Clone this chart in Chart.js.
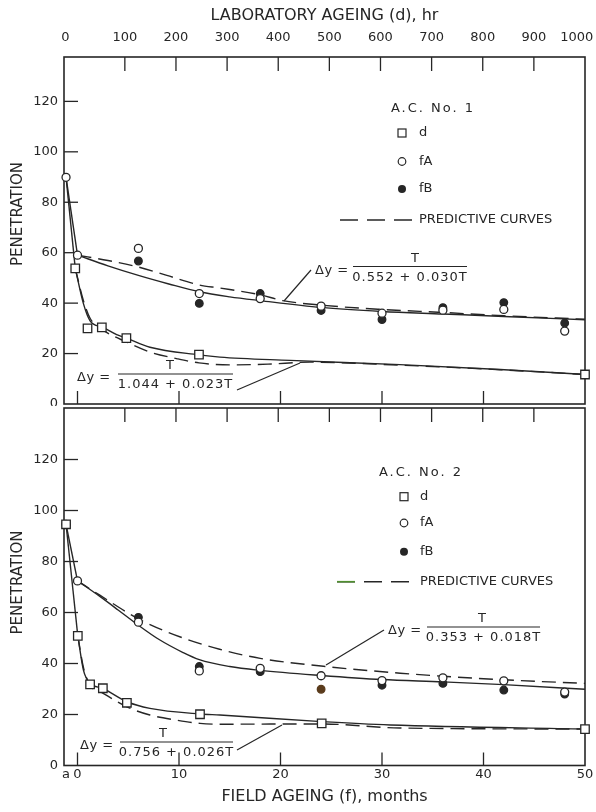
<!DOCTYPE html>
<html>
<head>
<meta charset="utf-8">
<script src="https://cdn.jsdelivr.net/npm/chart.js@4.4.0/dist/chart.umd.min.js"></script>
<style>
  body { margin: 0; background: #fff; }
  #wrap { position: relative; width: 596px; height: 812px; }
  canvas { position: absolute; left: 0; }
  #upper { top: 0; }
  #lower { top: 406px; }
</style>
</head>
<body>
<div id="wrap">
  <canvas id="upper" width="596" height="406"></canvas>
  <canvas id="lower" width="596" height="406"></canvas>
</div>
<script>
// where the unaged sample ("a") sits on each x axis
const originMonth = -1.13;
const originHr = -15;

const hrTicks = [0, 100, 200, 300, 400, 500, 600, 700, 800, 900, 1000];
const monthTicks = [0, 10, 20, 30, 40, 50];
const penTicks = [0, 20, 40, 60, 80, 100, 120];

// A.C. No. 1
const ac1LabHr = [3, 27, 55, 103, 245, 1000];
const ac1LabPen = [53.8, 30, 30.4, 26.1, 19.6, 11.7];
const ac1FAMonths = [originMonth, 0, 6, 12, 18, 24, 30, 36, 42, 48];
const ac1FA = [89.9, 59, 61.7, 43.8, 41.8, 38.8, 36, 37.2, 37.5, 28.9];
const ac1FBMonths = [6, 12, 18, 24, 30, 36, 42, 48];
const ac1FB = [56.7, 39.9, 43.8, 37.1, 33.5, 38.2, 40.2, 32.1];

const ac1FieldFitX = [originMonth, 0, 3, 6, 9, 12, 15, 18, 24, 30, 36, 42, 50];
const ac1FieldFitY = [89.9, 59, 54.8, 51, 47.6, 44.5, 42.5, 41, 38.3, 36.7, 35.7, 34.7, 33.4];
const ac1FieldPredX = [0, 3, 6, 8.8, 12, 14, 18, 20.2, 24, 30, 36, 42, 50];
const ac1FieldPredY = [59, 56.9, 54.3, 51, 47.2, 46, 43.3, 41, 39.2, 37.5, 36.3, 35, 33.6];
const ac1LabFitX = [originHr, 3, 19, 32, 56, 84, 104, 149, 245, 286, 423, 638, 834, 1000];
const ac1LabFitY = [89.9, 53.8, 39.8, 33, 30.5, 27.5, 26, 22.5, 19.5, 18.6, 17.3, 15.6, 13.7, 11.7];
const ac1LabPredX = [3, 19, 32, 56, 104, 149, 201, 245, 306, 380, 462, 638, 834, 1000];
const ac1LabPredY = [53.8, 41, 34, 29.5, 24.5, 20.6, 18, 16.3, 15.5, 15.8, 16.6, 15.4, 13.6, 11.7];

// A.C. No. 2
const ac2LabHr = [originHr, 8, 32, 57, 104, 247, 485, 1000];
const ac2LabPen = [94.6, 50.8, 31.8, 30.3, 24.6, 20.1, 16.5, 14.3];
const ac2FAMonths = [originMonth, 0, 6, 12, 18, 24, 30, 36, 42, 48];
const ac2FA = [94.6, 72.4, 56.2, 37.1, 38.1, 35.2, 33.3, 34.4, 33.2, 28.8];
const ac2FBMonths = [6, 12, 18, 24, 30, 36, 42, 48];
const ac2FB = [58.1, 38.8, 36.8, 29.9, 31.5, 32.2, 29.6, 28];

const ac2FieldFitX = [originMonth, 0, 2.2, 4, 6, 8, 10.4, 12, 15, 18, 24, 30, 36, 42, 50];
const ac2FieldFitY = [94.6, 72.4, 66.3, 61, 55, 49.5, 44.3, 41.5, 38.8, 37.3, 35.3, 33.7, 32.8, 31.7, 29.9];
const ac2FieldPredX = [0, 2.2, 6, 10.4, 14, 18, 24, 31.8, 36, 42, 50];
const ac2FieldPredY = [72.4, 66.8, 57.5, 50, 45.6, 42, 39, 36.2, 35, 33.6, 32.2];
const ac2LabFitX = [originHr, 8, 19, 32, 56, 104, 149, 247, 286, 485, 619, 1000];
const ac2LabFitY = [94.6, 50.8, 37.4, 32.2, 30.3, 25, 22.4, 20.2, 19.8, 17.2, 15.9, 14.3];
const ac2LabPredX = [8, 19, 32, 56, 104, 149, 201, 247, 286, 485, 638, 1000];
const ac2LabPredY = [50.8, 38.5, 31.5, 28.5, 23, 19.8, 17.8, 16.5, 16.2, 16.3, 14.7, 14.3];

const FONT = '"DejaVu Sans", sans-serif';
const ink = '#262626';

function pairs(xs, ys) {
    return xs.map((x, i) => ({x: x, y: ys[i]}));
}

function curve(xs, ys, axis, dashed) {
    return {
        data: pairs(xs, ys), xAxisID: axis, yAxisID: 'y', showLine: true,
        pointRadius: 0, pointHoverRadius: 0, borderColor: ink, borderWidth: 1.4,
        borderDash: dashed ? [14, 7] : [], cubicInterpolationMode: 'monotone',
        order: 2, clip: false
    };
}

// fitted curve: straight drop from the unaged sample, then the smooth part
function fitCurve(xs, ys, axis) {
    const drop = curve(xs.slice(0, 2), ys.slice(0, 2), axis, false);
    drop.cubicInterpolationMode = 'default';
    drop.tension = 0;
    return [drop, curve(xs.slice(1), ys.slice(1), axis, false)];
}

function marks(xs, ys, axis, kind, fill) {
    const ds = {
        data: pairs(xs, ys), xAxisID: axis, yAxisID: 'y', showLine: false,
        pointBorderColor: ink, pointBorderWidth: 1.3, order: 1, clip: false
    };
    if (kind === 'square') {
        Object.assign(ds, {pointStyle: 'rect', pointRadius: 6, pointBackgroundColor: '#fff'});
    } else if (kind === 'open') {
        Object.assign(ds, {pointStyle: 'circle', pointRadius: 4, pointBackgroundColor: '#fff'});
    } else {
        Object.assign(ds, {pointStyle: 'circle', pointRadius: 3.8, pointBackgroundColor: fill || ink});
    }
    ds.pointHoverRadius = ds.pointRadius;
    return ds;
}

function line(ctx, x0, y0, x1, y1) {
    ctx.beginPath();
    ctx.moveTo(x0, y0);
    ctx.lineTo(x1, y1);
    ctx.stroke();
}

function text(ctx, s, x, y, size, align, spacing) {
    ctx.font = size + 'px ' + FONT;
    ctx.letterSpacing = (spacing || 0) + 'px';
    ctx.textAlign = align || 'left';
    ctx.textBaseline = 'middle';
    ctx.fillText(s, x, y);
}

function drawLegend(ctx, lg) {
    const y = lg.y;
    ctx.fillStyle = ink;
    ctx.strokeStyle = ink;
    text(ctx, lg.title, lg.titleX, y[0], 13, 'center', 2);
    ctx.lineWidth = 1.2;
    ctx.fillStyle = '#fff';
    ctx.fillRect(lg.markX - 4, y[1] - 4, 8, 8);
    ctx.strokeRect(lg.markX - 4, y[1] - 4, 8, 8);
    ctx.beginPath();
    ctx.arc(lg.markX, y[2], 3.8, 0, Math.PI * 2);
    ctx.stroke();
    ctx.fillStyle = ink;
    ctx.beginPath();
    ctx.arc(lg.markX, y[3], 4, 0, Math.PI * 2);
    ctx.fill();
    lg.labels.forEach((s, i) => text(ctx, s, lg.textX, y[i + 1], 13, 'left'));
    ctx.lineWidth = 1.6;
    ctx.setLineDash([18, 9]);
    line(ctx, lg.dash[0], y[4], lg.dash[1], y[4]);
    ctx.setLineDash([]);
    if (lg.firstDash) {
        ctx.strokeStyle = lg.firstDash;
        line(ctx, lg.dash[0], y[4], lg.dash[0] + 18, y[4]);
        ctx.strokeStyle = ink;
    }
    text(ctx, 'PREDICTIVE CURVES', lg.textX, y[4], 13, 'left');
}

function drawFraction(ctx, f) {
    ctx.fillStyle = ink;
    ctx.strokeStyle = ink;
    text(ctx, '\u0394y =', f.lhsX, f.barY + 4, 13, 'left', 0.5);
    text(ctx, 'T', f.numX, f.barY - 8, 13, 'center');
    ctx.lineWidth = 1.2;
    line(ctx, f.bar[0], f.barY, f.bar[1], f.barY);
    text(ctx, f.den, (f.bar[0] + f.bar[1]) / 2, f.barY + 11, 13, 'center', 1);
    line(ctx, f.leader[0], f.leader[1], f.leader[2], f.leader[3]);
}

function panelFrame(notes) {
    return {
        id: 'panelFrame',
        beforeDatasetsDraw(chart) {
            const {ctx, chartArea: a, scales} = chart;
            ctx.save();
            ctx.strokeStyle = ink;
            ctx.lineWidth = 1.6;
            ctx.strokeRect(a.left, a.top, a.right - a.left, a.bottom - a.top);
            ctx.lineWidth = 1.3;
            hrTicks.slice(1, -1).forEach(v => {
                const x = scales.xHr.getPixelForValue(v);
                line(ctx, x, a.top, x, a.top + 14);
            });
            monthTicks.slice(0, -1).forEach(v => {
                const x = scales.xMo.getPixelForValue(v);
                line(ctx, x, a.bottom, x, a.bottom - 13);
            });
            penTicks.slice(1).forEach(v => {
                const y = scales.y.getPixelForValue(v);
                line(ctx, a.left, y, a.left + 14, y);
            });
            // y title
            ctx.save();
            ctx.translate(18, notes.titleY);
            ctx.rotate(-Math.PI / 2);
            ctx.fillStyle = ink;
            text(ctx, 'PENETRATION', 0, 0, 15, 'center');
            ctx.restore();
            drawLegend(ctx, notes.legend);
            notes.fractions.forEach(f => drawFraction(ctx, f));
            ctx.restore();
        }
    };
}

const tickFont = {family: FONT, size: 13};

// keep the library from reserving room for edge labels
function noEdgePadding(s) {
    s.paddingTop = 0;
    s.paddingBottom = 0;
    s.paddingLeft = 0;
    s.paddingRight = 0;
}

// the corner labels of the hour axis sit a little to the left, as in the print
function hrLabel(v) {
    if (v === 0 || v === 1000) return v + '\u2007\u2007';
    return String(v);
}

function makeChart(id, datasets, isUpper, yMax, notes) {
    return new Chart(document.getElementById(id), {
        type: 'scatter',
        data: {datasets: datasets},
        options: {
            responsive: false,
            animation: false,
            events: [],
            layout: {autoPadding: false, padding: {top: isUpper ? 0 : 2, right: 11, bottom: isUpper ? 2 : 0, left: 0}},
            plugins: {legend: {display: false}, tooltip: {enabled: false}},
            scales: {
                xHr: {
                    type: 'linear', position: 'top', min: -19, max: 1000, display: isUpper,
                    afterBuildTicks: s => { s.ticks = hrTicks.map(v => ({value: v})); },
                    afterFit: s => { s.height = isUpper ? 57 : 0; noEdgePadding(s); },
                    grid: {display: false, drawTicks: false},
                    border: {display: false},
                    ticks: {color: ink, font: tickFont, padding: 12, maxRotation: 0, autoSkip: false, callback: hrLabel},
                    title: {display: true, text: 'LABORATORY AGEING (d), hr', color: ink,
                        font: {family: FONT, size: 16}, padding: {top: 6, bottom: 0}}
                },
                xMo: {
                    type: 'linear', position: 'bottom', min: -1.33, max: 50, display: !isUpper,
                    afterBuildTicks: s => { s.ticks = [originMonth].concat(monthTicks).map(v => ({value: v})); },
                    afterFit: s => { s.height = isUpper ? 0 : 46.5; noEdgePadding(s); },
                    grid: {display: false, drawTicks: false},
                    border: {display: false},
                    ticks: {color: ink, font: tickFont, padding: 1, maxRotation: 0, autoSkip: false,
                        callback: v => v === originMonth ? 'a' : String(v)},
                    title: {display: true, text: 'FIELD AGEING (f), months', color: ink,
                        font: {family: FONT, size: 16}, padding: {top: 0, bottom: 6}}
                },
                y: {
                    type: 'linear', position: 'left', min: 0, max: yMax,
                    afterBuildTicks: s => { s.ticks = penTicks.map(v => ({value: v})); },
                    afterFit: s => { s.width = 64; noEdgePadding(s); },
                    grid: {display: false, drawTicks: false},
                    border: {display: false},
                    ticks: {color: ink, font: tickFont, padding: 6, autoSkip: false}
                }
            }
        },
        plugins: [panelFrame(notes)]
    });
}

makeChart('upper', [
    marks(ac1LabHr, ac1LabPen, 'xHr', 'square'),
    marks(ac1FAMonths, ac1FA, 'xMo', 'open'),
    marks(ac1FBMonths, ac1FB, 'xMo', 'solid'),
    ...fitCurve(ac1FieldFitX, ac1FieldFitY, 'xMo'),
    curve(ac1FieldPredX, ac1FieldPredY, 'xMo', true),
    ...fitCurve(ac1LabFitX, ac1LabFitY, 'xHr'),
    curve(ac1LabPredX, ac1LabPredY, 'xHr', true)
], true, 137.6, {
    titleY: 214,
    legend: {title: 'A.C. No. 1', titleX: 433, y: [109, 133, 161.5, 189, 220], markX: 402, textX: 419,
        labels: ['d', 'fA', 'fB'], dash: [340, 412]},
    fractions: [
        {lhsX: 315, bar: [353, 467], barY: 266.5, numX: 415, den: '0.552 + 0.030T', leader: [311, 270, 284, 301]},
        {lhsX: 77, bar: [118, 233], barY: 374, numX: 170, den: '1.044 + 0.023T', leader: [237, 390, 300, 363]}
    ]
});

const brown = '#5a3b1c';
const ac2FBColors = ac2FBMonths.map(m => m === 24 ? brown : ink);
const ac2FBMarks = marks(ac2FBMonths, ac2FB, 'xMo', 'solid');
ac2FBMarks.pointBackgroundColor = ac2FBColors;
ac2FBMarks.pointBorderColor = ac2FBColors;

makeChart('lower', [
    marks(ac2LabHr, ac2LabPen, 'xHr', 'square'),
    marks(ac2FAMonths, ac2FA, 'xMo', 'open'),
    ac2FBMarks,
    ...fitCurve(ac2FieldFitX, ac2FieldFitY, 'xMo'),
    curve(ac2FieldPredX, ac2FieldPredY, 'xMo', true),
    ...fitCurve(ac2LabFitX, ac2LabFitY, 'xHr'),
    curve(ac2LabPredX, ac2LabPredY, 'xHr', true)
], false, 140.2, {
    titleY: 176.5,
    legend: {title: 'A.C. No. 2', titleX: 421, y: [67, 90.7, 117, 145.7, 175.7], markX: 404, textX: 420,
        labels: ['d', 'fA', 'fB'], dash: [337, 413], firstDash: '#4f8f2f'},
    fractions: [
        {lhsX: 388, bar: [427, 540], barY: 221, numX: 482, den: '0.353 + 0.018T', leader: [384, 224, 326, 259]},
        {lhsX: 80, bar: [120, 233], barY: 336, numX: 163, den: '0.756 + 0.026T', leader: [237, 344, 282, 319]}
    ]
});
</script>
</body>
</html>
